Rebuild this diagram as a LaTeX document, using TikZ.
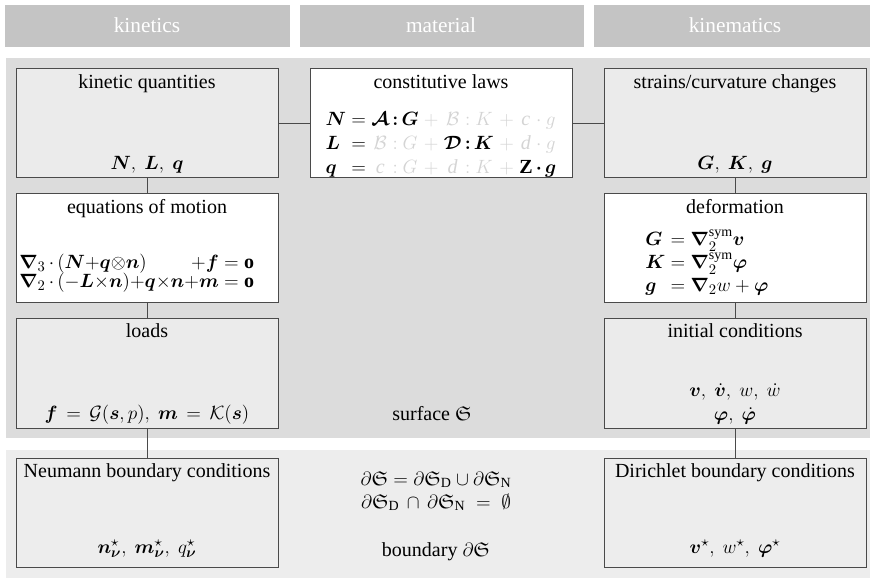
\documentclass[tikz,border=0pt]{standalone}
\usepackage{amsmath,amssymb,bm,mathtools}
\usepackage{fontspec}
\setmainfont{Liberation Serif}

\definecolor{hdr}{HTML}{C4C4C4}
\definecolor{surf}{HTML}{DCDCDC}
\definecolor{bnd}{HTML}{EDEDED}
\definecolor{boxfill}{HTML}{EBEBEB}
\definecolor{edge}{HTML}{4A4A4A}
\definecolor{faint}{HTML}{D4D4D4}
\newcommand{\fa}[1]{{\color{faint}#1}}

\tikzset{
  panel/.style={draw=edge, line width=0.75pt, fill=boxfill,
    minimum width=196.5pt, minimum height=81.75pt, inner sep=0pt},
  panelw/.style={panel, fill=white},
  panelb/.style={panel, fill=bnd},
  link/.style={draw=edge, line width=0.75pt},
  hdrtext/.style={anchor=base, text=white, font=\fontsize{16}{19}\selectfont},
  lbl/.style={anchor=base},
}

\begin{document}
\begin{tikzpicture}[x=0.75pt, y=-0.75pt,
  every node/.style={inner sep=0pt, font=\fontsize{15}{18}\selectfont}]
\useasboundingbox (0,0) rectangle (870,580);

% column headers
\fill[hdr] (5,5) rectangle (290,47);
\fill[hdr] (300,5) rectangle (584,47);
\fill[hdr] (594,5) rectangle (870,47);
\node[hdrtext] (hkin) at (147,33) {kinetics};
\node[hdrtext] (hmat) at (441,33) {material};
\node[hdrtext] (hkm)  at (735,33) {kinematics};

% surface and boundary regions
\fill[surf] (6,58) rectangle (870,438);
\fill[bnd] (6,450) rectangle (870,578);

% boxes
\node[panel]  (kq) at (147,123.5) {};
\node[panelw] (cl) at (441,123.5) {};
\node[panel]  (sc) at (735,123.5) {};
\node[panelw] (em) at (147,248) {};
\node[panelw] (df) at (735,248) {};
\node[panel]  (ld) at (147,373.5) {};
\node[panel]  (ic) at (735,373.5) {};
\node[panelb] (nb) at (147,513) {};
\node[panelb] (db) at (735,513) {};

% connectors
\draw[link] (kq.east) -- (cl.west);
\draw[link] (cl.east) -- (sc.west);
\draw[link] (kq.south) -- (em.north);
\draw[link] (em.south) -- (ld.north);
\draw[link] (ld.south) -- (nb.north);
\draw[link] (sc.south) -- (df.north);
\draw[link] (df.south) -- (ic.north);
\draw[link] (ic.south) -- (db.north);

% kinetic quantities
\node[lbl] (kqt) at (147,89) {kinetic quantities};
\node[lbl] (kqf) at (147,170) {$\bm N,\ \bm L,\ \bm q$};

% constitutive laws
\node[lbl] (clt) at (441,89) {constitutive laws};
\node (clf) at (441,145) {\renewcommand{\arraystretch}{1.0}%
$\begin{array}{@{}l@{\;}c@{\;}c@{\,}c@{\,}c@{\;}c@{\;}c@{\,}c@{\,}c@{\;}c@{\;}c@{\,}c@{\,}c@{}}
\bm N & = & \bm{\mathcal A} & \bm{:} & \bm G & \fa{+} & \fa{\mathcal B} & \fa{:} & \fa{K} & \fa{+} & \fa{\mathit{c}} & \fa{\cdot} & \fa{g}\\
\bm L & = & \fa{\mathcal B} & \fa{:} & \fa{G} & \fa{+} & \bm{\mathcal D} & \bm{:} & \bm K & \fa{+} & \fa{\mathit{d}} & \fa{\cdot} & \fa{g}\\
\bm q & = & \fa{\mathit{c}} & \fa{:} & \fa{G} & \fa{+} & \fa{\mathit{d}} & \fa{:} & \fa{K} & \fa{+} & \bm{\mathrm Z} & \bm{\cdot} & \bm g
\end{array}$};

% strains
\node[lbl] (sct) at (735,89) {strains/curvature changes};
\node[lbl] (scf) at (735,170) {$\bm G,\ \bm K,\ \bm g$};

% equations of motion
\node[lbl] (emt) at (147,214) {equations of motion};
\node[anchor=west] (emf) at (19,273) {%
$\begin{array}{@{}l@{\;}c@{\;}l@{}}
\mathrlap{\bm\nabla_{3}{\,\cdot\,}(\bm N{+}\bm q{\otimes}\bm n)}
  \hphantom{\bm\nabla_{2}{\,\cdot\,}({-}\bm L{\times}\bm n){+}\bm q{\times}\bm n{+}\bm m}
  \mathllap{{+}\bm f} & = & \mathbf o\\[-4pt]
\bm\nabla_{2}{\,\cdot\,}({-}\bm L{\times}\bm n){+}\bm q{\times}\bm n{+}\bm m & = & \mathbf o
\end{array}$};

% deformation
\node[lbl] (dft) at (735,214) {deformation};
\node[anchor=west] (dff) at (645,264) {\renewcommand{\arraystretch}{0.95}%
$\begin{array}{@{}l@{\;}c@{\;}l@{}}
\bm G & = & \bm\nabla_{2}^{\mathrm{sym}}\bm v\\
\bm K & = & \bm\nabla_{2}^{\mathrm{sym}}\bm\varphi\\
\bm g & = & \bm\nabla_{2} w+\bm\varphi
\end{array}$};

% loads
\node[lbl] (ldt) at (147,338) {loads};
\node[lbl] (ldf) at (147,420) {$\bm f\,=\,\mathcal G(\bm s,p),\ \bm m\,=\,\mathcal K(\bm s)$};

% initial conditions
\node[lbl] (ict) at (735,338) {initial conditions};
\node (icf) at (735,404) {\renewcommand{\arraystretch}{1.0}%
$\begin{array}{@{}c@{}}
\bm v,\ \dot{\bm v},\ w,\ \dot w\\
\bm\varphi,\ \dot{\bm\varphi}
\end{array}$};

% surface label
\node[lbl] (surf) at (432,421) {surface $\mathfrak S$};

% boundary conditions
\node[lbl] (nbt) at (147,477) {Neumann boundary conditions};
\node[lbl] (nbf) at (147,553) {$\bm n_{\bm\nu}^{\star},\ \bm m_{\bm\nu}^{\star},\ q_{\bm\nu}^{\star}$};
\node[lbl] (dbt) at (735,477) {Dirichlet boundary conditions};
\node[lbl] (dbf) at (735,553) {$\bm v^{\star},\ w^{\star},\ \bm\varphi^{\star}$};

% boundary relations
\node[lbl] (br1) at (436,485) {$\partial\mathfrak S = \partial\mathfrak S_{\mathrm D}\cup\partial\mathfrak S_{\mathrm N}$};
\node[lbl] (br2) at (436,508) {$\partial\mathfrak S_{\mathrm D}\,\cap\,\partial\mathfrak S_{\mathrm N}\;=\;\emptyset$};
\node[lbl] (bnd) at (436,556) {boundary $\partial\mathfrak S$};
\end{tikzpicture}
\end{document}
